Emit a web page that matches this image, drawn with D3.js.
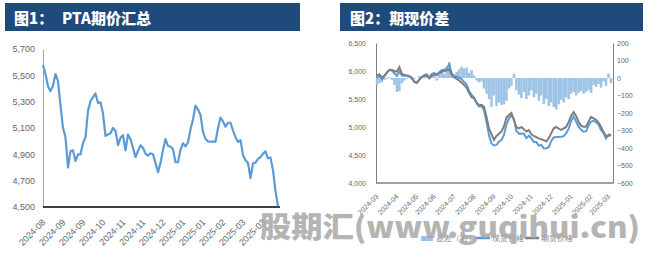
<!DOCTYPE html>
<html>
<head>
<meta charset="utf-8">
<script src="https://cdn.jsdelivr.net/npm/d3@7"></script>
<style>
  body { margin: 0; background: #fff; }
  text { font-family: "Liberation Sans", Arial, sans-serif; }
</style>
</head>
<body>
<div id="chart"></div>
<script>
// ---- 图1 PTA期价 (even steps)
const ptaPrice = [5578,5510,5415,5380,5420,5510,5455,5270,5100,5030,4800,4925,4930,4850,4900,4900,4985,5030,5230,5305,
  5335,5362,5290,5295,5210,5040,5050,5060,5100,5080,4970,5025,5045,4930,5050,5015,4950,4880,4925,4968,
  4948,4905,4890,4908,4900,4835,4765,4835,4935,5015,4965,4958,4940,4840,4840,4935,4984,4960,4990,5090,
  5165,5270,5240,5199,5070,5018,4998,4996,4996,4996,5100,5180,5150,5110,5140,5140,5082,5030,4994,5008,
  4895,4855,4835,4720,4832,4836,4865,4878,4905,4922,4870,4875,4780,4620,4505];
const ptaLabels = ["2024-08","2024-09","2024-09","2024-10","2024-11","2024-11","2024-12","2025-01","2025-01","2025-02","2025-03","2025-03"];
const ptaTickIdx = [0,8,16,24,32,40,48,56,64,72,80,88];
const ptaYTicks = [4500,4700,4900,5100,5300,5500,5700];

// ---- 图2 期现价差
const futures = [5920,5941,5880,5920,5975,6018,6018,6000,5990,6070,5950,5929,5920,5905,5880,5810,5790,5840,5890,5915,
  5920,5870,5920,5935,5940,5960,5985,5995,6010,6030,5930,5890,5860,5830,5790,5748,5700,5610,5530,5510,
  5440,5390,5395,5360,5180,4970,4870,4770,4840,4880,4920,5010,5170,5215,5250,5120,5000,4977,5000,4960,
  4920,4946,4870,4840,4820,4798,4780,4765,4740,4800,4890,4977,5000,4970,4950,4977,5000,5090,5200,5265,
  5195,5090,5025,5006,5006,5100,5180,5155,5130,5080,5000,4910,4840,4840,4870];
const spot = [5880,5911,5855,5910,5970,6023,6008,5960,5910,5995,5920,5914,5915,5910,5870,5805,5790,5850,5895,5930,
  5940,5880,5945,5965,5925,5980,6020,6020,6050,6120,5960,5910,5895,5880,5855,5803,5760,5640,5575,5525,
  5425,5365,5375,5300,5090,4850,4705,4670,4680,4740,4765,4860,5040,5155,5205,5145,4930,4882,4885,4880,
  4800,4846,4800,4730,4730,4668,4680,4615,4620,4640,4750,4812,4820,4820,4825,4837,4890,4970,5110,5185,
  5095,5005,4950,4916,4926,5030,5095,5115,5080,5045,4945,4890,4795,4865,4840];
const basis = [-40,-30,-25,-10,-5,5,-10,-40,-80,-75,-30,-15,-5,5,-10,-5,0,10,5,15,
  20,10,25,30,-15,20,35,25,40,90,30,20,35,50,65,55,60,30,45,15,
  -15,-25,-20,-60,-90,-120,-165,-100,-160,-140,-155,-150,-130,-60,-45,25,-70,-95,-115,-80,
  -120,-100,-70,-110,-90,-130,-100,-150,-120,-160,-140,-165,-180,-150,-125,-140,-110,-120,-90,-80,
  -100,-85,-75,-90,-80,-70,-85,-40,-50,-35,-55,-20,-45,25,-30];
const monthLabels = ["2024-03","2024-04","2024-05","2024-06","2024-07","2024-08","2024-09","2024-10","2024-11","2024-12","2025-01","2025-02","2025-03"];
const monthIdx = [0,8,16,23,31,39,47,54,62,70,78,86,93];
const priceTicks = [4000,4500,5000,5500,6000,6500];
const basisTicks = [-600,-500,-400,-300,-200,-100,0,100,200];
const legendNames = ["基差（右）","现货价格","期货价格"];

const svg = d3.select("#chart").append("svg")
    .attr("width", 658)
    .attr("height", 259);

// title bars
function titleBar(x0, x1, parts) {
  svg.append("rect").attr("x", x0).attr("y", 3).attr("width", x1 - x0).attr("height", 28).attr("fill", "#1f4a7c");
  parts.forEach(p => {
    svg.append("text").attr("x", p[0]).attr("y", 24).text(p[1])
      .style("font-family", "'Noto Sans CJK SC', sans-serif")
      .style("font-weight", 900).style("font-size", "15px").attr("fill", "#fff");
  });
}
titleBar(5, 300, [[14, "图1："], [62, "PTA期价汇总"]]);
titleBar(340, 643, [[350, "图2：期现价差"]]);

// ---------- left chart
const xL = d3.scaleLinear().domain([0, ptaPrice.length - 1]).range([43, 278]);
const yL = d3.scaleLinear().domain([4500, 5700]).range([207, 49]);

const gyL = svg.append("g").attr("transform", "translate(43,0)")
  .call(d3.axisLeft(yL).tickValues(ptaYTicks).tickSize(0).tickSizeOuter(0).tickPadding(8).tickFormat(d3.format(",")));
gyL.select(".domain").attr("stroke", "#a6a6a6");
gyL.selectAll("text").style("font-family", "'Liberation Sans', Arial, sans-serif").style("font-size", "9px").attr("fill", "#666");

svg.append("line").attr("x1", 43).attr("x2", 280).attr("y1", 207).attr("y2", 207)
  .attr("stroke", "#000").attr("stroke-width", 1.5);

svg.append("g").selectAll("text").data(ptaTickIdx).join("text")
  .attr("transform", (d) => `translate(${xL(d) + 3},223) rotate(-45)`)
  .attr("text-anchor", "end")
  .style("font-size", "9px").attr("fill", "#666")
  .text((d, i) => ptaLabels[i]);

svg.append("path").datum(ptaPrice)
  .attr("fill", "none").attr("stroke", "#5b9bd5").attr("stroke-width", 2.2).attr("stroke-linejoin", "round")
  .attr("d", d3.line().x((d, i) => xL(i)).y(d => yL(d)));

// ---------- right chart
const xR = d3.scaleLinear().domain([0, futures.length - 1]).range([377, 611]);
const yP = d3.scaleLinear().domain([4000, 6500]).range([183, 43]);
const yB = d3.scaleLinear().domain([-600, 200]).range([183, 43]);

const gyP = svg.append("g").attr("transform", "translate(376,0)")
  .call(d3.axisLeft(yP).tickValues(priceTicks).tickSize(0).tickSizeOuter(0).tickPadding(10).tickFormat(d3.format(",")));
const gyB = svg.append("g").attr("transform", "translate(613,0)")
  .call(d3.axisRight(yB).tickValues(basisTicks).tickSize(0).tickSizeOuter(0).tickPadding(4));
[gyP, gyB].forEach(g => {
  g.select(".domain").attr("stroke", "#808080");
  g.selectAll("text").style("font-family", "'Liberation Sans', Arial, sans-serif").style("font-size", "7px").attr("fill", "#666");
});

svg.append("g").selectAll("rect").data(basis).join("rect")
  .attr("x", (d, i) => xR(i) - 1.25)
  .attr("width", 2.5)
  .attr("y", d => Math.min(yB(d), yB(0)))
  .attr("height", d => Math.abs(yB(d) - yB(0)))
  .attr("fill", "#9dc3e6");

svg.append("line").attr("x1", 376).attr("x2", 613).attr("y1", 183).attr("y2", 183)
  .attr("stroke", "#808080").attr("stroke-width", 1.5);

const lineR = d3.line().x((d, i) => xR(i)).y(d => yP(d));
svg.append("path").datum(spot)
  .attr("fill", "none").attr("stroke", "#5b9bd5").attr("stroke-width", 2).attr("d", lineR);
svg.append("path").datum(futures)
  .attr("fill", "none").attr("stroke", "#7f7f7f").attr("stroke-width", 2).attr("d", lineR);

svg.append("g").selectAll("text").data(monthIdx).join("text")
  .attr("transform", d => `translate(${xR(d) + 2},197) rotate(-45)`)
  .attr("text-anchor", "end")
  .style("font-size", "7px").attr("fill", "#666")
  .text((d, i) => monthLabels[i]);

// legend
const lg = svg.append("g").style("font-family", "'Noto Sans CJK SC', sans-serif").style("font-size", "7.5px");
lg.append("rect").attr("x", 421).attr("y", 236).attr("width", 12).attr("height", 5).attr("fill", "#9dc3e6");
lg.append("line").attr("x1", 475).attr("x2", 490).attr("y1", 238).attr("y2", 238).attr("stroke", "#5b9bd5").attr("stroke-width", 2.5);
lg.append("line").attr("x1", 525).attr("x2", 539).attr("y1", 238).attr("y2", 238).attr("stroke", "#7f7f7f").attr("stroke-width", 2.5);
[436, 492, 541].forEach((x, i) => {
  lg.append("text").attr("x", x).attr("y", 241).text(legendNames[i]).attr("fill", "#7f7f7f");
});

// watermark
svg.append("text").attr("x", 260).attr("y", 238)
  .attr("textLength", 380).attr("lengthAdjust", "spacingAndGlyphs")
  .style("font-family", "'Noto Sans CJK SC', sans-serif").style("font-weight", 900).style("font-size", "29px")
  .attr("fill", "#a8a8a8").attr("opacity", 0.85)
  .text("股期汇(www.guqihui.cn)");
</script>
</body>
</html>
